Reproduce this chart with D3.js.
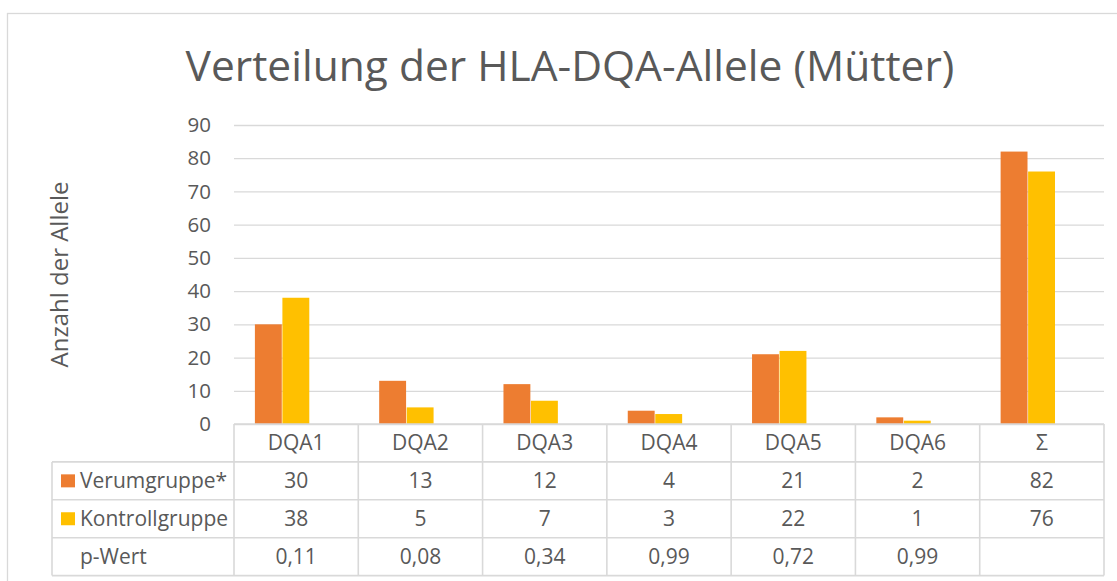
<!DOCTYPE html>
<html>
<head>
<meta charset="utf-8">
<script src="https://cdn.jsdelivr.net/npm/d3@7"></script>
<style>
  body { margin: 0; background: #fff; }
  text { font-family: "Open Sans", sans-serif; fill: #595959; }
</style>
</head>
<body>
<div id="chart-area"></div>
<script>
var categories = ["DQA1", "DQA2", "DQA3", "DQA4", "DQA5", "DQA6", "\u03A3"];
var verum = [30, 13, 12, 4, 21, 2, 82];
var kontroll = [38, 5, 7, 3, 22, 1, 76];
var pWert = ["0,11", "0,08", "0,34", "0,99", "0,72", "0,99", ""];
var yTicks = [0, 10, 20, 30, 40, 50, 60, 70, 80, 90];

var series = [
  {name: "Verumgruppe*", values: verum, color: "#ED7D31"},
  {name: "Kontrollgruppe", values: kontroll, color: "#FFC000"},
  {name: "p-Wert", values: pWert, color: null}
];

var W = 1117, H = 581;
var plot = {left: 234, right: 1104, top: 125, bottom: 424};
var rowH = 37.9, tableLeft = 52;
var fs = "21px";

var svg = d3.select("#chart-area")
  .append("svg")
    .attr("width", W)
    .attr("height", H);

// chart area border
svg.append("rect")
  .attr("x", 7.5).attr("y", 13.5)
  .attr("width", W + 10).attr("height", H + 10)
  .attr("fill", "#fff")
  .attr("stroke", "#D9D9D9")
  .attr("stroke-width", 1.3);

svg.append("text")
  .attr("x", 570).attr("y", 81)
  .attr("text-anchor", "middle")
  .style("font-size", "42.5px")
  .text("Verteilung der HLA-DQA-Allele (M\u00FCtter)");

var x = d3.scaleBand()
  .domain(categories)
  .range([plot.left, plot.right])
  .paddingInner(0)
  .paddingOuter(0);

var xs = d3.scaleBand()
  .domain(series.map(function(s) { return s.name; }))
  .range([0, x.bandwidth()])
  .paddingInner(0)
  .paddingOuter(0.76);

var y = d3.scaleLinear()
  .domain([0, 90])
  .range([plot.bottom, plot.top]);

// gridlines + tick labels
var yAxis = d3.axisLeft(y)
  .tickValues(yTicks)
  .tickSize(-(plot.right - plot.left))
  .tickPadding(23);

var gy = svg.append("g")
  .attr("transform", "translate(" + plot.left + ",0)")
  .call(yAxis);
gy.select(".domain").remove();
gy.selectAll(".tick line").attr("stroke", "#D9D9D9").attr("stroke-width", 1.3);
gy.selectAll(".tick text")
  .attr("fill", "#595959")
  .style("font-family", "'Open Sans', sans-serif")
  .style("font-size", "20.5px");

svg.append("text")
  .attr("transform", "translate(68," + ((plot.top + plot.bottom) / 2) + ") rotate(-90)")
  .attr("text-anchor", "middle")
  .style("font-size", "24px")
  .text("Anzahl der Allele");

// bars
series.slice(0, 2).forEach(function(s) {
  svg.append("g")
    .selectAll("rect")
    .data(categories)
    .enter()
    .append("rect")
      .attr("x", function(d) { return x(d) + xs(s.name); })
      .attr("y", function(d, i) { return y(s.values[i]); })
      .attr("width", xs.bandwidth() - 0.6)
      .attr("height", function(d, i) { return plot.bottom - y(s.values[i]); })
      .attr("fill", s.color);
});

// data table
var table = svg.append("g");
var lineColor = "#D9D9D9";
var rowsY = d3.range(5).map(function(i) { return plot.bottom + i * rowH; });

// horizontal lines
rowsY.forEach(function(ry, i) {
  table.append("line")
    .attr("x1", i === 0 ? plot.left : tableLeft)
    .attr("x2", plot.right)
    .attr("y1", ry).attr("y2", ry)
    .attr("stroke", lineColor).attr("stroke-width", 1.6);
});
// vertical lines
categories.concat(["end"]).forEach(function(c, i) {
  var vx = i < categories.length ? x(c) : plot.right;
  table.append("line")
    .attr("x1", vx).attr("x2", vx)
    .attr("y1", plot.bottom).attr("y2", rowsY[4])
    .attr("stroke", lineColor).attr("stroke-width", 1.6);
});
table.append("line")
  .attr("x1", tableLeft).attr("x2", tableLeft)
  .attr("y1", rowsY[1]).attr("y2", rowsY[4])
  .attr("stroke", lineColor).attr("stroke-width", 1.6);

// header labels
table.selectAll("text.cat")
  .data(categories)
  .enter()
  .append("text")
    .attr("class", "cat")
    .attr("x", function(d) { return x(d) + x.bandwidth() / 2; })
    .attr("y", rowsY[0] + rowH / 2)
    .attr("dy", "0.35em")
    .attr("text-anchor", "middle")
    .style("font-size", fs)
    .text(function(d) { return d; });

series.forEach(function(s, r) {
  var cy = rowsY[r + 1] + rowH / 2;
  if (s.color) {
    table.append("rect")
      .attr("x", 61).attr("y", cy - 6.5)
      .attr("width", 14).attr("height", 13)
      .attr("fill", s.color);
  }
  table.append("text")
    .attr("x", 80).attr("y", cy)
    .attr("dy", "0.35em")
    .style("font-size", fs)
    .text(s.name);
  table.selectAll(null)
    .data(s.values)
    .enter()
    .append("text")
      .attr("x", function(d, i) { return x(categories[i]) + x.bandwidth() / 2; })
      .attr("y", cy)
      .attr("dy", "0.35em")
      .attr("text-anchor", "middle")
      .style("font-size", fs)
      .text(function(d) { return d; });
});
</script>
</body>
</html>
